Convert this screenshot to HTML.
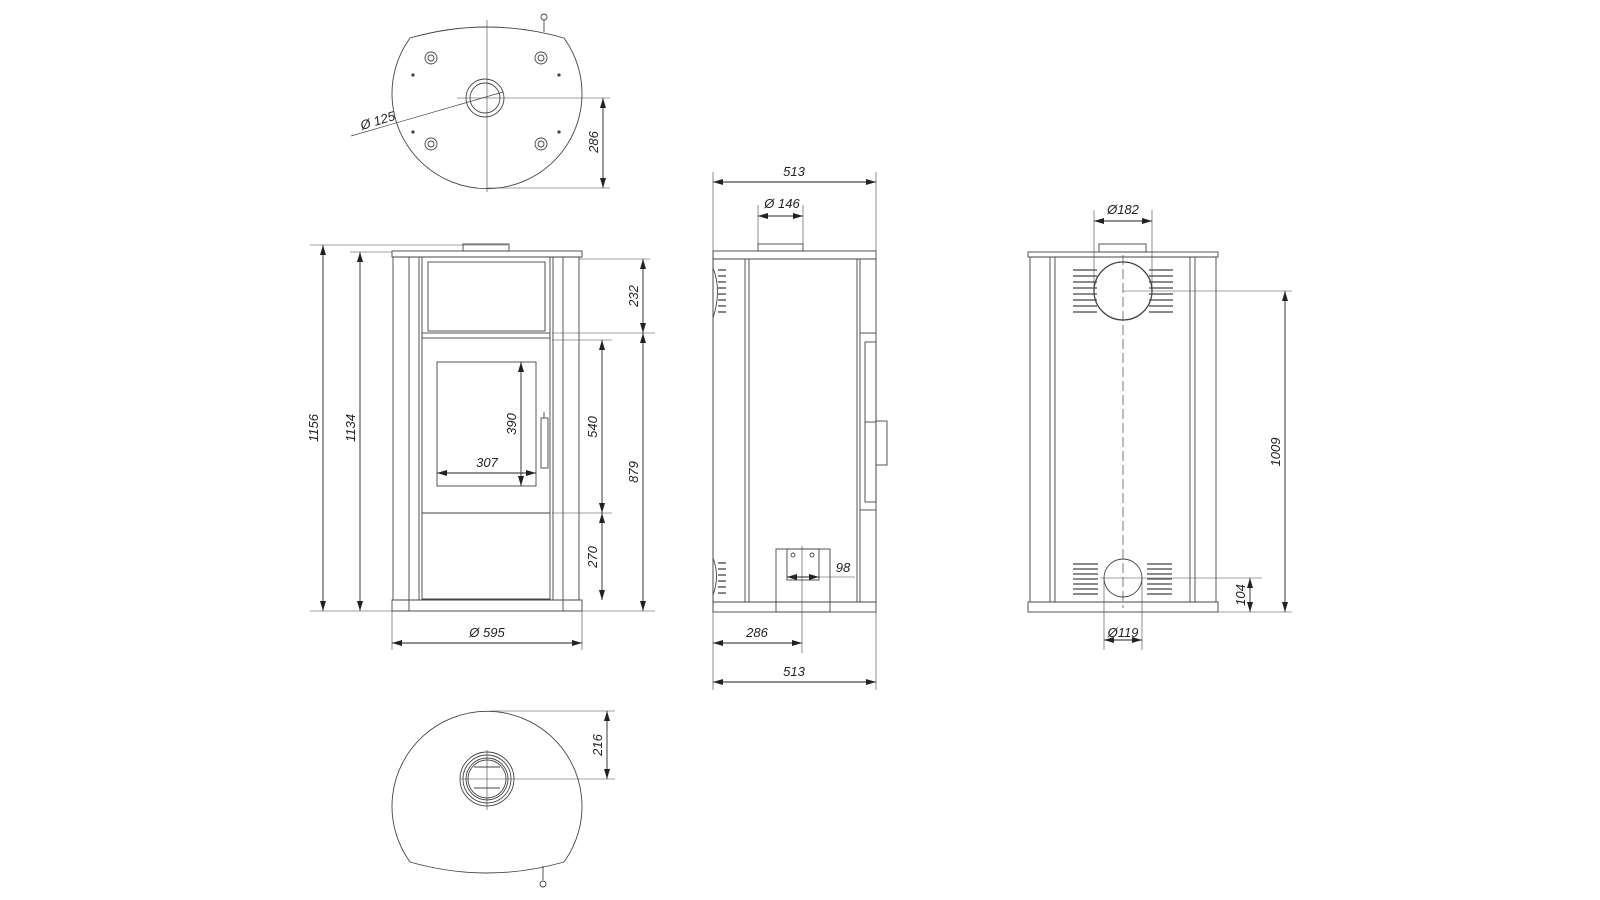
<!DOCTYPE html>
<html><head><meta charset="utf-8"><style>
html,body{margin:0;padding:0;background:#fff}
svg{display:block}
text{font-family:"Liberation Sans",sans-serif;font-size:13px;font-style:italic;fill:#222}
</style></head><body>
<svg width="1600" height="900" viewBox="0 0 1600 900" xmlns="http://www.w3.org/2000/svg">
<defs>
<marker id="a" viewBox="0 0 10 6" refX="10" refY="3" markerWidth="10" markerHeight="6" orient="auto-start-reverse" markerUnits="userSpaceOnUse"><path d="M0,0 L10,3 L0,6 z" fill="#222"/></marker>
</defs>
<g fill="none" stroke="#444" stroke-width="0.9">
<!-- TOP PLAN -->
<path d="M410,38 Q487,16 564,38 A95,95 0 1 1 410,38 Z"/>
<line x1="544" y1="20" x2="544" y2="32"/><circle cx="544" cy="17" r="3"/>
<line x1="487" y1="20" x2="487" y2="192" stroke-width="0.6"/>
<line x1="457" y1="98" x2="610" y2="98" stroke-width="0.6"/>
<circle cx="485" cy="98" r="19"/><circle cx="485" cy="98" r="15"/>
<g><circle cx="431" cy="58" r="6"/><circle cx="431" cy="58" r="3"/><circle cx="541" cy="58" r="6"/><circle cx="541" cy="58" r="3"/><circle cx="431" cy="144" r="6"/><circle cx="431" cy="144" r="3"/><circle cx="541" cy="144" r="6"/><circle cx="541" cy="144" r="3"/></g>
<g fill="#444"><circle cx="413" cy="75" r="1.2"/><circle cx="559" cy="75" r="1.2"/><circle cx="413" cy="132" r="1.2"/><circle cx="559" cy="132" r="1.2"/></g>
<line x1="351" y1="136" x2="503" y2="92" stroke-width="0.7"/>
<line x1="487" y1="188" x2="610" y2="188" stroke-width="0.6"/>
<line x1="603" y1="98" x2="603" y2="188" stroke="#222" marker-start="url(#a)" marker-end="url(#a)"/>

<!-- FRONT VIEW -->
<rect x="392" y="251" width="190" height="6"/>
<rect x="463" y="244" width="46" height="7"/>
<rect x="393" y="257" width="186" height="343"/>
<line x1="409" y1="257" x2="409" y2="600"/><line x1="419" y1="257" x2="419" y2="600"/><line x1="422" y1="257" x2="422" y2="600"/>
<line x1="563" y1="257" x2="563" y2="600"/><line x1="553" y1="257" x2="553" y2="600"/><line x1="550" y1="257" x2="550" y2="600"/>
<rect x="428" y="262" width="117" height="69"/>
<rect x="422" y="333" width="128" height="5"/>
<rect x="437" y="362" width="99" height="124"/>
<rect x="541" y="418" width="7" height="50"/><line x1="544" y1="418" x2="544" y2="412"/>
<line x1="422" y1="513" x2="550" y2="513"/>
<line x1="422" y1="599" x2="550" y2="599"/>
<rect x="392" y="600" width="190" height="11"/>
<line x1="409" y1="600" x2="409" y2="611"/><line x1="563" y1="600" x2="563" y2="611"/>
<g stroke-width="0.6">
<line x1="310" y1="245" x2="508" y2="245"/><line x1="350" y1="252" x2="392" y2="252"/>
<line x1="310" y1="611" x2="655" y2="611"/>
<line x1="579" y1="259" x2="650" y2="259"/><line x1="552" y1="333" x2="655" y2="333"/>
<line x1="552" y1="340" x2="612" y2="340"/><line x1="552" y1="513" x2="612" y2="513"/>
<line x1="392" y1="611" x2="392" y2="650"/><line x1="582" y1="611" x2="582" y2="650"/>
</g>
<g stroke="#222">
<line x1="323" y1="245" x2="323" y2="611" marker-start="url(#a)" marker-end="url(#a)"/>
<line x1="360" y1="252" x2="360" y2="611" marker-start="url(#a)" marker-end="url(#a)"/>
<line x1="643" y1="259" x2="643" y2="333" marker-start="url(#a)" marker-end="url(#a)"/>
<line x1="643" y1="333" x2="643" y2="611" marker-start="url(#a)" marker-end="url(#a)"/>
<line x1="602" y1="340" x2="602" y2="513" marker-start="url(#a)" marker-end="url(#a)"/>
<line x1="602" y1="513" x2="602" y2="600" marker-start="url(#a)" marker-end="url(#a)"/>
<line x1="521" y1="362" x2="521" y2="486" marker-start="url(#a)" marker-end="url(#a)"/>
<line x1="437" y1="473" x2="536" y2="473" marker-start="url(#a)" marker-end="url(#a)"/>
<line x1="392" y1="643" x2="582" y2="643" marker-start="url(#a)" marker-end="url(#a)"/>
</g>

<!-- SIDE VIEW -->
<rect x="713" y="251" width="163" height="8"/>
<rect x="758" y="244" width="45" height="7"/>
<rect x="713" y="259" width="163" height="343"/>
<line x1="745" y1="259" x2="745" y2="602"/><line x1="749" y1="259" x2="749" y2="602"/>
<line x1="857" y1="259" x2="857" y2="602"/><line x1="860" y1="259" x2="860" y2="602"/>
<rect x="865" y="342" width="11" height="160"/><line x1="865" y1="422" x2="876" y2="422"/>
<rect x="876" y="421" width="11" height="44"/>
<line x1="860" y1="333" x2="876" y2="333"/><line x1="860" y1="510" x2="876" y2="510"/>
<path d="M713,268 Q722,290 713,318"/><path d="M713,558 Q720,576 713,595"/>
<g stroke-width="1.3"><line x1="718" y1="270" x2="726" y2="270"/><line x1="718" y1="276" x2="726" y2="276"/><line x1="718" y1="282" x2="726" y2="282"/><line x1="718" y1="288" x2="726" y2="288"/><line x1="718" y1="294" x2="726" y2="294"/><line x1="718" y1="300" x2="726" y2="300"/><line x1="718" y1="306" x2="726" y2="306"/><line x1="718" y1="312" x2="726" y2="312"/>
<line x1="718" y1="563" x2="726" y2="563"/><line x1="718" y1="569" x2="726" y2="569"/><line x1="718" y1="575" x2="726" y2="575"/><line x1="718" y1="581" x2="726" y2="581"/><line x1="718" y1="587" x2="726" y2="587"/><line x1="718" y1="593" x2="726" y2="593"/></g>
<rect x="713" y="602" width="163" height="10"/>
<rect x="776" y="549" width="54" height="63"/>
<rect x="787" y="549" width="32" height="31"/>
<circle cx="793" cy="555" r="2"/><circle cx="812" cy="555" r="2"/>
<g stroke-width="0.6">
<line x1="802" y1="546" x2="802" y2="653"/>
<line x1="713" y1="172" x2="713" y2="690"/><line x1="876" y1="172" x2="876" y2="251"/><line x1="876" y1="612" x2="876" y2="690"/>
<line x1="758" y1="205" x2="758" y2="244"/><line x1="803" y1="205" x2="803" y2="244"/>
<line x1="819" y1="577" x2="855" y2="577"/>
</g>
<g stroke="#222">
<line x1="713" y1="182" x2="876" y2="182" marker-start="url(#a)" marker-end="url(#a)"/>
<line x1="758" y1="216" x2="803" y2="216" marker-start="url(#a)" marker-end="url(#a)"/>
<line x1="787" y1="577" x2="819" y2="577" marker-start="url(#a)" marker-end="url(#a)"/>
<line x1="713" y1="643" x2="802" y2="643" marker-start="url(#a)" marker-end="url(#a)"/>
<line x1="713" y1="682" x2="876" y2="682" marker-start="url(#a)" marker-end="url(#a)"/>
</g>

<!-- BACK VIEW -->
<rect x="1028" y="252" width="190" height="5"/>
<rect x="1099" y="244" width="47" height="8"/>
<rect x="1030" y="257" width="186" height="345"/>
<line x1="1050" y1="257" x2="1050" y2="602"/><line x1="1055" y1="257" x2="1055" y2="602"/>
<line x1="1190" y1="257" x2="1190" y2="602"/><line x1="1195" y1="257" x2="1195" y2="602"/>
<rect x="1028" y="602" width="190" height="10"/>
<circle cx="1123" cy="291" r="29" stroke-width="1.3"/>
<circle cx="1123" cy="578" r="19"/>
<g stroke-width="1.2">
<path d="M1073,270h24M1073,276h24M1073,282h24M1073,288h24M1073,294h24M1073,300h24M1073,306h24M1073,312h24M1149,270h24M1149,276h24M1149,282h24M1149,288h24M1149,294h24M1149,300h24M1149,306h24M1149,312h24"/>
<path d="M1073,564h25M1073,569h25M1073,574h25M1073,579h25M1073,584h25M1073,589h25M1073,594h25M1147,564h25M1147,569h25M1147,574h25M1147,579h25M1147,584h25M1147,589h25M1147,594h25"/>
</g>
<line x1="1123" y1="255" x2="1123" y2="608" stroke-dasharray="10,4" stroke-width="0.7"/>
<g stroke-width="0.6">
<line x1="1123" y1="291" x2="1292" y2="291"/>
<line x1="1100" y1="578" x2="1262" y2="578"/>
<line x1="1218" y1="612" x2="1292" y2="612"/>
<line x1="1094" y1="210" x2="1094" y2="291"/><line x1="1152" y1="210" x2="1152" y2="291"/>
<line x1="1104" y1="578" x2="1104" y2="650"/><line x1="1142" y1="578" x2="1142" y2="650"/>
</g>
<g stroke="#222">
<line x1="1094" y1="221" x2="1152" y2="221" marker-start="url(#a)" marker-end="url(#a)"/>
<line x1="1285" y1="291" x2="1285" y2="612" marker-start="url(#a)" marker-end="url(#a)"/>
<line x1="1250" y1="578" x2="1250" y2="612" marker-start="url(#a)" marker-end="url(#a)"/>
<line x1="1104" y1="640" x2="1142" y2="640" marker-start="url(#a)" marker-end="url(#a)"/>
</g>

<!-- BOTTOM PLAN -->
<path d="M410,862 A95,95 0 1 1 564,862 Q487,884 410,862 Z"/>
<line x1="543" y1="866" x2="543" y2="880"/><circle cx="543" cy="884" r="3"/>
<circle cx="487" cy="779" r="27"/><circle cx="487" cy="779" r="24"/><circle cx="487" cy="779" r="21"/><circle cx="487" cy="779" r="19"/>
<line x1="474" y1="767" x2="500" y2="767"/><line x1="474" y1="788" x2="500" y2="788"/>
<line x1="487" y1="750" x2="487" y2="810" stroke-width="0.6"/>
<line x1="460" y1="779" x2="615" y2="779" stroke-width="0.6"/>
<line x1="490" y1="711" x2="615" y2="711" stroke-width="0.6"/>
<line x1="607" y1="711" x2="607" y2="779" stroke="#222" marker-start="url(#a)" marker-end="url(#a)"/>
</g>

<!-- TEXT -->
<text x="0" y="0" transform="translate(362,130) rotate(-17)">Ø 125</text>
<text transform="translate(598,142) rotate(-90)" text-anchor="middle">286</text>
<text transform="translate(318,428) rotate(-90)" text-anchor="middle">1156</text>
<text transform="translate(355,428) rotate(-90)" text-anchor="middle">1134</text>
<text transform="translate(638,296) rotate(-90)" text-anchor="middle">232</text>
<text transform="translate(638,472) rotate(-90)" text-anchor="middle">879</text>
<text transform="translate(597,427) rotate(-90)" text-anchor="middle">540</text>
<text transform="translate(597,557) rotate(-90)" text-anchor="middle">270</text>
<text transform="translate(516,424) rotate(-90)" text-anchor="middle">390</text>
<text x="487" y="467" text-anchor="middle">307</text>
<text x="487" y="637" text-anchor="middle">Ø 595</text>
<text x="794" y="176" text-anchor="middle">513</text>
<text x="782" y="208" text-anchor="middle">Ø 146</text>
<text x="843" y="572" text-anchor="middle">98</text>
<text x="757" y="637" text-anchor="middle">286</text>
<text x="794" y="676" text-anchor="middle">513</text>
<text x="1123" y="214" text-anchor="middle">Ø182</text>
<text transform="translate(1280,452) rotate(-90)" text-anchor="middle">1009</text>
<text transform="translate(1245,595) rotate(-90)" text-anchor="middle">104</text>
<text x="1123" y="637" text-anchor="middle">Ø119</text>
<text transform="translate(602,745) rotate(-90)" text-anchor="middle">216</text>
</svg>
</body></html>
